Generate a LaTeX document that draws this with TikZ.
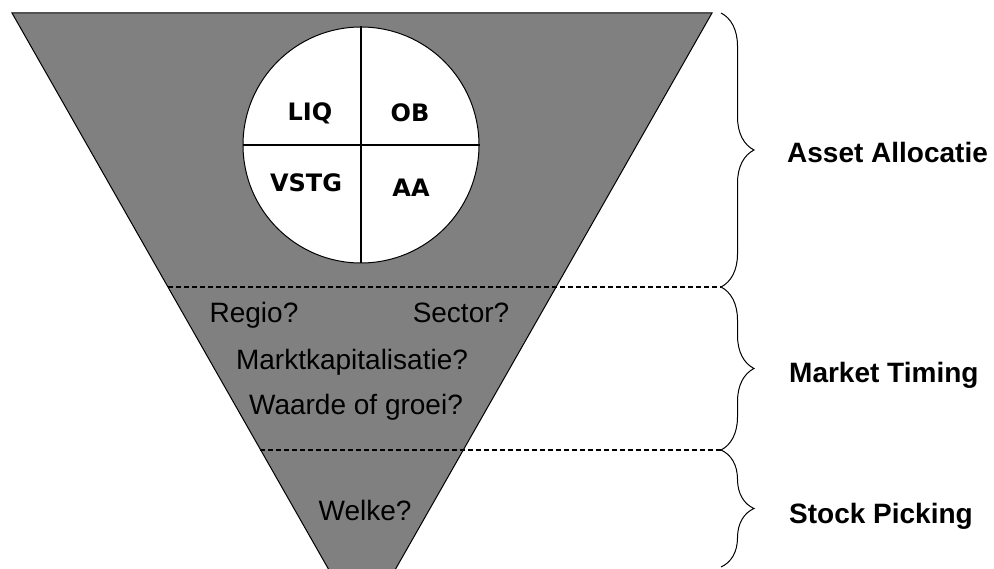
\documentclass[tikz,border=0pt]{standalone}
\usepackage{fontspec}
\setmainfont{Liberation Sans}
\newfontfamily\piefont{DejaVu Sans}
\usetikzlibrary{decorations.pathreplacing}
\definecolor{funnelgray}{RGB}{128,128,128}

\begin{document}
\begin{tikzpicture}[x=1pt,y=-1pt,
  question/.style={font=\fontsize{28}{32}\selectfont,anchor=base,inner sep=0pt},
  level/.style={font=\bfseries\fontsize{28}{32}\selectfont,anchor=base west,inner sep=0pt},
  quarter/.style={font=\piefont\bfseries\fontsize{24}{27}\selectfont,anchor=base,inner sep=0pt},
  bracket/.style={decorate,decoration={brace,amplitude=33pt},line width=1pt},
  divider/.style={dash pattern=on 5pt off 3pt,line width=1.5pt}]
\useasboundingbox (0,0) rectangle (994,569);

\scope % funnel, cut off at the bottom
\clip (0,0) rectangle (994,569);
\draw[fill=funnelgray,line width=1pt] (12,13) -- (712,13) -- (362,628) -- cycle;
\endscope

% pie with the four parts
\node[circle,draw,fill=white,line width=1pt,minimum size=236pt,inner sep=0pt] (pie) at (361,145) {};
\draw[line width=1.3pt] (pie.north) -- (pie.south) (pie.west) -- (pie.east);
\node[quarter] (liq)  at (310,121) {LIQ};
\node[quarter] (ob)   at (410,122) {OB};
\node[quarter] (vstg) at (306,192) {VSTG};
\node[quarter] (aa)   at (411,197) {AA};

% questions in the funnel
\node[question] (regio)  at (254,323) {Regio?};
\node[question] (sector) at (461,323) {Sector?};
\node[question] (markt)  at (352,370) {Marktkapitalisatie?};
\node[question] (waarde) at (356,415) {Waarde of groei?};
\node[question] (welke)  at (365,520) {Welke?};

% borders between the levels
\coordinate (cut1) at (168,287);
\coordinate (cut2) at (260,450);
\coordinate (b1) at (721,13);
\coordinate (b2) at (721,287);
\coordinate (b3) at (721,450);
\coordinate (b4) at (721,567);
\draw[divider] (cut1) -- (b2) (cut2) -- (b3);

% braces and level names
\draw[bracket] (b1) -- (b2);
\draw[bracket] (b2) -- (b3);
\draw[bracket] (b3) -- (b4);
\node[level] (asset)  at (787,163) {Asset Allocatie};
\node[level] (timing) at (789,383) {Market Timing};
\node[level] (stock)  at (789,523) {Stock Picking};
\end{tikzpicture}
\end{document}
